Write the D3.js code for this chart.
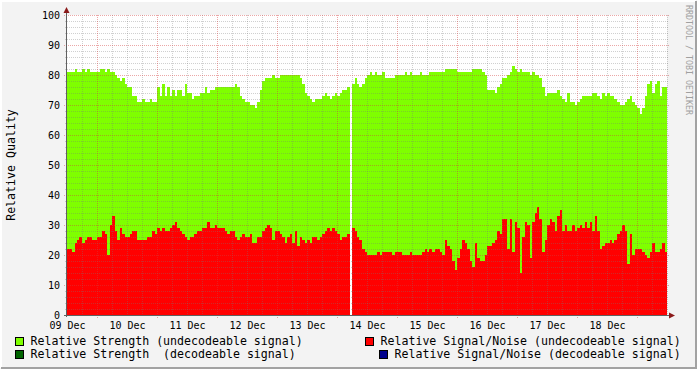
<!DOCTYPE html>
<html>
<head>
<meta charset="utf-8">
<script src="https://cdn.jsdelivr.net/npm/d3@7"></script>
<style>
body { margin: 0; background: #f3f3f3; }
svg { display: block; font-family: "DejaVu Sans Mono", monospace; }
</style>
</head>
<body>
<svg id="chart" width="697" height="369"></svg>
<script>
// hourly samples, 09 Dec 00:00 -> 19 Dec 00:00
const startTime = Date.UTC(2010, 11, 9)
const endTime = Date.UTC(2010, 11, 19)
const stepMs = 3600 * 1000

const strength = [
  81,81,81,82,81,81,82,81,82,81,81,81,81,82,82,81,82,81,81,80,79,78,79,77,
  76,76,73,73,71,71,72,71,71,72,71,71,76,73,77,73,76,73,75,73,75,75,73,77,
  74,74,72,73,73,74,74,76,74,75,75,76,76,76,76,76,76,76,76,77,76,73,72,71,
  71,70,70,69,71,75,78,79,79,79,80,79,79,80,80,80,80,80,80,80,80,79,77,74,
  73,72,71,72,72,72,73,74,73,72,73,74,73,74,75,75,76,null,77,79,77,76,77,79,
  80,81,80,81,80,80,81,79,79,79,79,80,80,80,80,81,80,81,80,80,80,81,80,80,
  80,81,81,81,81,81,81,82,82,82,82,82,81,81,81,81,81,81,82,82,82,82,81,80,
  75,75,75,74,76,77,79,79,80,81,83,82,81,82,81,81,81,80,81,80,80,79,76,73,
  74,74,74,74,75,73,72,71,74,71,71,70,71,72,73,73,73,73,74,74,73,72,74,73,
  74,73,73,72,71,70,70,71,72,73,71,70,69,67,69,73,77,78,74,77,78,73,76,76
]

const snr = [
  22,22,21,24,25,26,24,25,26,26,25,25,26,26,28,27,20,30,33,28,25,29,27,26,
  26,27,28,28,25,25,25,25,26,26,28,27,29,28,29,28,28,29,30,31,29,28,27,26,
  25,26,26,27,28,28,29,29,31,29,29,30,29,29,29,28,27,28,28,26,25,26,27,26,
  26,27,24,24,26,26,28,29,30,29,25,28,28,27,26,24,26,27,24,28,23,26,25,24,
  25,24,26,26,25,26,27,28,29,28,29,28,27,25,26,26,27,null,29,28,26,25,22,21,
  20,20,20,20,21,20,21,21,21,21,20,21,21,21,20,20,20,21,20,20,20,20,21,22,
  21,22,21,22,22,21,20,25,23,22,18,15,19,22,25,24,22,18,16,24,19,18,18,20,
  23,23,24,25,28,27,32,32,22,32,21,31,29,14,26,31,30,19,31,34,36,32,21,25,
  30,32,31,28,33,35,28,30,28,28,30,28,29,30,29,31,29,31,28,33,28,22,23,24,
  24,25,24,25,27,28,30,28,17,27,20,22,22,22,21,20,19,21,24,21,21,22,24,21
]

const yTicks = [0, 10, 20, 30, 40, 50, 60, 70, 80, 90, 100]

const legendLabels = [
  'Relative Strength (undecodeable signal)',
  'Relative Signal/Noise (undecodeable signal)',
  'Relative Strength  (decodeable signal)',
  'Relative Signal/Noise (decodeable signal)'
]
const legendColors = ['#7fff00', '#ff0000', '#006400', '#00008b']

const svg = d3.select('#chart')
const W = 697, H = 369
const pLeft = 67, pRight = 667, pTop = 15, pBottom = 315

// frame
svg.append('rect').attr('width', W).attr('height', H).attr('fill', '#f3f3f3')
svg.append('path').attr('d', `M1,${H-1}V1H${W-1}`).attr('stroke', '#ffffff').attr('stroke-width', 2).attr('fill', 'none')
svg.append('path').attr('d', `M1,${H-1}H${W-1}V1`).attr('stroke', '#a2a2a2').attr('stroke-width', 2).attr('fill', 'none')

svg.append('rect')
  .attr('x', pLeft).attr('y', pTop)
  .attr('width', pRight - pLeft).attr('height', pBottom - pTop)
  .attr('fill', '#ffffff')

const x = d3.scaleUtc().domain([startTime, endTime]).range([pLeft, pRight])
const y = d3.scaleLinear().domain([0, 100]).range([pBottom, pTop])

const bars = (vals, color) => {
  svg.append('g')
    .attr('shape-rendering', 'crispEdges')
    .selectAll('rect')
    .data(vals.map((v, i) => ({ v, i })).filter(d => d.v != null))
    .join('rect')
    .attr('x', d => Math.round(x(startTime + d.i * stepMs)))
    .attr('width', d => Math.round(x(startTime + (d.i + 1) * stepMs)) - Math.round(x(startTime + d.i * stepMs)))
    .attr('y', d => Math.round(y(d.v)))
    .attr('height', d => pBottom - Math.round(y(d.v)))
    .attr('fill', color)
}

bars(strength, legendColors[0])
bars(snr, legendColors[1])

// grid
const grid = svg.append('g').attr('shape-rendering', 'crispEdges')
const minorY = d3.range(0, 101, 2).filter(v => v % 10 != 0)
grid.selectAll('.hmin').data(minorY).join('line')
  .attr('x1', pLeft - 2).attr('x2', pRight + 2)
  .attr('y1', d => y(d) + 0.5).attr('y2', d => y(d) + 0.5)
  .attr('stroke', 'rgba(120,120,120,0.35)').attr('stroke-dasharray', '1,1')

const hours6 = d3.utcHour.every(6).range(startTime, endTime + 1)
const minorX = hours6.filter(d => d.getUTCHours() != 12 && +d != startTime)
const majorX = hours6.filter(d => d.getUTCHours() == 12)

grid.selectAll('.vmin').data(minorX).join('line')
  .attr('x1', d => Math.round(x(d)) + 0.5).attr('x2', d => Math.round(x(d)) + 0.5)
  .attr('y1', pTop).attr('y2', pBottom + 2)
  .attr('stroke', 'rgba(120,120,120,0.35)').attr('stroke-dasharray', '1,1')

grid.selectAll('.hmaj').data(yTicks.slice(1)).join('line')
  .attr('x1', pLeft - 3).attr('x2', pRight + 3)
  .attr('y1', d => y(d) + 0.5).attr('y2', d => y(d) + 0.5)
  .attr('stroke', 'rgba(210,60,60,0.45)').attr('stroke-dasharray', '1,1')

grid.selectAll('.vmaj').data(majorX).join('line')
  .attr('x1', d => Math.round(x(d)) + 0.5).attr('x2', d => Math.round(x(d)) + 0.5)
  .attr('y1', pTop).attr('y2', pBottom + 3)
  .attr('stroke', 'rgba(210,60,60,0.45)').attr('stroke-dasharray', '1,1')

// axes lines + arrows
svg.append('line').attr('x1', pLeft - 0.5).attr('x2', pLeft - 0.5).attr('y1', pBottom + 2).attr('y2', pTop - 5)
  .attr('stroke', '#606060')
svg.append('line').attr('x1', pLeft - 3).attr('x2', pRight + 5).attr('y1', pBottom + 0.5).attr('y2', pBottom + 0.5)
  .attr('stroke', '#606060')
svg.append('path').attr('d', `M${pLeft-3.5},${pTop-2}L${pLeft+2.5},${pTop-2}L${pLeft-0.5},${pTop-8}Z`).attr('fill', '#8b1a1a')
svg.append('path').attr('d', `M${pRight+2},${pBottom-2.5}L${pRight+2},${pBottom+3.5}L${pRight+8},${pBottom+0.5}Z`).attr('fill', '#8b1a1a')

// y labels
const yAxis = svg.append('g')
  .attr('transform', `translate(${pLeft - 1},0)`)
  .call(d3.axisLeft(y).tickValues(yTicks).tickSize(0).tickPadding(6))
yAxis.select('.domain').remove()
yAxis.selectAll('text')
  .attr('font-family', '"DejaVu Sans Mono", monospace')
  .attr('font-size', 10).attr('fill', '#000').attr('dy', '0.34em')

// x labels
const days = d3.utcDay.range(startTime, endTime)
const xAxis = svg.append('g')
  .attr('transform', `translate(0,${pBottom})`)
  .call(d3.axisBottom(x).tickValues(days).tickFormat(d3.utcFormat('%d %b')).tickSize(0))
xAxis.select('.domain').remove()
xAxis.selectAll('text')
  .attr('font-family', '"DejaVu Sans Mono", monospace')
  .attr('font-size', 10).attr('fill', '#000').attr('y', 13.5).attr('dy', 0)

// titles
svg.append('text')
  .attr('transform', `translate(15,${(pTop + pBottom) / 2}) rotate(-90)`)
  .attr('text-anchor', 'middle')
  .attr('font-size', 11.6)
  .text('Relative Quality')

svg.append('text')
  .attr('transform', 'translate(686,5) rotate(90)')
  .attr('font-size', 8.3)
  .attr('fill', '#a0a0a0')
  .text('RRDTOOL / TOBI OETIKER')

// legend
const legendPos = [[15, 337], [365, 337], [15, 350], [379, 350]]
const leg = svg.selectAll('.leg').data(legendLabels).join('g')
  .attr('transform', (d, i) => `translate(${legendPos[i][0]},${legendPos[i][1]})`)
leg.append('rect')
  .attr('x', 0.5).attr('y', 0.5).attr('width', 8).attr('height', 8)
  .attr('fill', (d, i) => legendColors[i]).attr('stroke', '#000')
leg.append('text')
  .attr('x', 15.5).attr('y', 8)
  .attr('font-size', 11.6)
  .attr('xml:space', 'preserve')
  .style('white-space', 'pre')
  .text(d => d)
</script>
</body>
</html>
